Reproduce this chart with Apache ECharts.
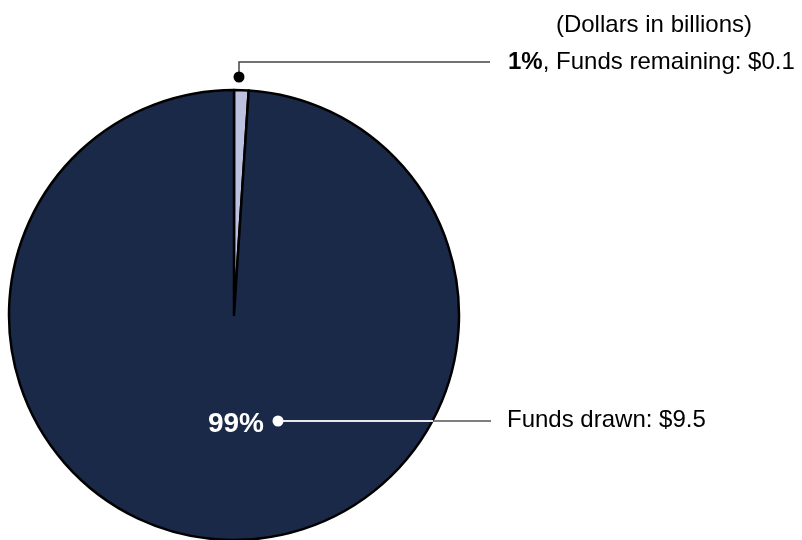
<!DOCTYPE html>
<html><head><meta charset="utf-8">
<script src="https://cdn.jsdelivr.net/npm/echarts@6/dist/echarts.min.js"></script>
<style>html,body{margin:0;padding:0;background:#fff}#c{width:802px;height:540px}</style>
</head><body><div id="c"></div>
<script>
const categories = ['Funds remaining', 'Funds drawn'];
const values = [0.1, 9.5];
const unitNote = '(Dollars in billions)';
const colors = ['#bcc1df', '#1b2949'];

const CX = 234, CY = 315, R = 225;
const FONT = '"Liberation Sans", Arial, Helvetica, sans-serif';
const chart = echarts.init(document.getElementById('c'));

const data = categories.map((n, i) => ({ name: n, value: values[i], itemStyle: { color: colors[i] } }));
const pctData = categories.map((n, i) => ({ name: n, value: values[i], label: { show: i === 1 } }));

const option = {
  animation: false,
  title: {
    text: unitNote, right: 45, top: 8,
    textStyle: { fontSize: 24, fontWeight: 'normal', color: '#000', fontFamily: FONT }
  },
  series: [
    {
      type: 'pie', center: [CX, CY], radius: R, startAngle: 90, clockwise: true,
      data: data,
      itemStyle: { borderColor: '#000', borderWidth: 2.5 },
      label: {
        show: true, color: '#000', fontSize: 24, fontFamily: FONT, overflow: 'none', width: 400,
        formatter: p => (p.dataIndex === 0
          ? '{b|' + Math.round(p.percent) + '%}, ' + p.name + ': $' + p.value
          : p.name + ': $' + p.value),
        rich: { b: { fontWeight: 'bold', fontSize: 24, fontFamily: FONT, color: '#000' } }
      },
      labelLine: { show: false },
      labelLayout: p => (p.dataIndex === 0
        ? { x: 508, y: 62, align: 'left', verticalAlign: 'middle' }
        : { x: 507, y: 420, align: 'left', verticalAlign: 'middle' })
    },
    {
      type: 'pie', center: [CX, CY], radius: R, startAngle: 90, clockwise: true,
      silent: true, z: 3,
      data: pctData,
      itemStyle: { color: 'rgba(0,0,0,0)', borderWidth: 0 },
      label: {
        color: '#fff', fontSize: 28, fontWeight: 'bold', fontFamily: FONT, overflow: 'none',
        formatter: p => Math.round(p.percent) + '%'
      },
      labelLine: { show: false },
      labelLayout: () => ({ x: 236, y: 424, align: 'center', verticalAlign: 'middle' })
    }
  ],
  graphic: [
    { type: 'polyline', z: 100, shape: { points: [[239, 77], [239, 62], [490, 62]] }, style: { stroke: '#444', lineWidth: 1.5, fill: null } },
    { type: 'circle', z: 101, shape: { cx: 239, cy: 77, r: 5.5 }, style: { fill: '#000' } },
    { type: 'line', z: 100, shape: { x1: 278, y1: 421, x2: 433, y2: 421 }, style: { stroke: '#e8e8e8', lineWidth: 2 } },
    { type: 'line', z: 100, shape: { x1: 433, y1: 421, x2: 491, y2: 421 }, style: { stroke: '#555', lineWidth: 1.5 } },
    { type: 'circle', z: 101, shape: { cx: 278, cy: 421, r: 5.5 }, style: { fill: '#fff' } }
  ]
};
chart.setOption(option);
</script></body></html>
